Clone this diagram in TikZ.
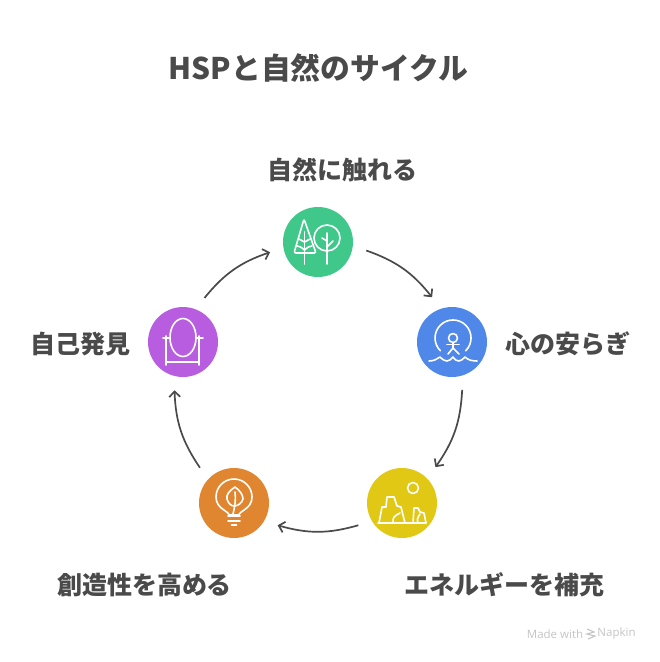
\documentclass[tikz,border=0pt]{standalone}
\usepackage{fontspec}
\setmainfont{Noto Sans CJK JP}
\setsansfont{Open Sans}
\usetikzlibrary{arrows.meta}
\definecolor{inkgray}{HTML}{4A4A4A}
\definecolor{markgray}{HTML}{C4C4C4}
\definecolor{naturegreen}{HTML}{40C88A}
\definecolor{calmblue}{HTML}{4F88E8}
\definecolor{energyyellow}{HTML}{E0C814}
\definecolor{ideaorange}{HTML}{E08530}
\definecolor{selfpurple}{HTML}{B85CE0}
\tikzset{
  stagecircle/.style={circle,fill=#1,minimum size=70pt,inner sep=0pt,outer sep=14pt},
  stagelabel/.style={text=inkgray,font=\fontsize{25}{29}\selectfont\bfseries,inner sep=0pt},
  flowarrow/.style={draw=inkgray,line width=1.7pt,-{Straight Barb[length=5.5pt,width=11pt]},bend left=16},
  iconline/.style={draw=white,line width=1.6pt,line join=round,line cap=round},
}
\begin{document}
\begin{tikzpicture}[x=1pt,y=-1pt]
  \useasboundingbox (0,0) rectangle (660,662);
  \node[text=inkgray,font=\fontsize{29.8}{34}\selectfont\bfseries,inner sep=0pt] (title) at (318.5,68) {HSPと自然のサイクル};
  \node[stagecircle=naturegreen] (nature) at (318,242) {};
  \node[stagecircle=calmblue] (calm) at (452,342) {};
  \node[stagecircle=energyyellow] (energy) at (402,503) {};
  \node[stagecircle=ideaorange] (idea) at (234,503) {};
  \node[stagecircle=selfpurple] (self) at (183,342) {};
  \node[stagelabel] (naturetext) at (342,170) {自然に触れる};
  \node[stagelabel] (calmtext) at (568,344) {心の安らぎ};
  \node[stagelabel] (energytext) at (504,585) {エネルギーを補充};
  \node[stagelabel] (ideatext) at (144.5,585) {創造性を高める};
  \node[stagelabel] (selftext) at (80.5,344) {自己発見};
  \draw[flowarrow] (nature.-10) to (calm.114);
  \draw[flowarrow] (calm.-78) to (energy.47);
  \draw[flowarrow] (energy.-153) to (idea.-27);
  \draw[flowarrow] (idea.134) to (self.-100);
  \draw[flowarrow] (self.64) to (nature.192);
  % trees
  \begin{scope}[shift={(318,242)},iconline]
    \draw[rounded corners=2pt] (-14,-23) -- (-2,11) -- (-24,11) -- cycle;
    \draw (-13.5,-10) -- (-13.5,22);
    \draw (-13.5,0) .. controls (-16,-2) .. (-19,-3);
    \draw (-13.5,0) .. controls (-11,-2) .. (-8,-3);
    \draw (-13.5,8) .. controls (-17,5) .. (-21,4);
    \draw (-13.5,8) .. controls (-10,5) .. (-6,4);
    \draw (9,-4) circle (13);
    \draw (9,-9) -- (9,22);
    \draw (4,-4) -- (9,-1);
    \draw (15,-1) -- (9,5);
  \end{scope}
  % person in water
  \begin{scope}[shift={(452,342)},iconline]
    \draw (-11.7,8.7) arc[start angle=135,end angle=405,radius=18];
    \draw (1,-4) circle (4.5);
    \draw (1,1) -- (1,6);
    \draw (-5,2.5) -- (7,2.5);
    \draw (-4,12) -- (1,6) -- (7,12);
    \draw (-23,19) .. controls (-18,19) and (-15,17) .. (-12,15)
      .. controls (-9,18) and (-7,19) .. (-5,19)
      .. controls (-2,19) and (-1,17) .. (1,15)
      .. controls (3,18) and (5,19) .. (7,19)
      .. controls (9,19) and (11,17) .. (13,15)
      .. controls (16,18) and (20,19) .. (25,19);
  \end{scope}
  % rocks and sun
  \begin{scope}[shift={(402,503)},iconline]
    \draw (11,-15) circle (5.5);
    \draw (-24,20) -- (24,20);
    \draw (-23,20) -- (-20,4) -- (-16,4) -- (-15,-6) -- (-8,-6) -- (-5,3) -- (-1,4) -- (3,20);
    \draw (-9,20) .. controls (-9,14) .. (-2,10);
    \draw (11,20) -- (12,5) -- (16,5) -- (18,9) -- (22,10) -- (24,20);
    \draw (16,20) .. controls (15,16) .. (18,11);
  \end{scope}
  % bulb with leaf
  \begin{scope}[shift={(234,503)},iconline]
    \draw (-5,12) .. controls (-5,8) and (-18,6) .. (-18,-6)
      arc[start angle=180,end angle=360,radius=18]
      .. controls (18,6) and (5,8) .. (5,12) -- cycle;
    \draw (1,-16) .. controls (-5,-12) and (-8,-8) .. (-7,-4)
      .. controls (-6,0) and (-3,3) .. (0,3)
      .. controls (4,3) and (8,0) .. (9,-4)
      .. controls (9,-9) and (5,-13) .. (1,-16);
    \draw (1,-11) .. controls (2,-4) and (1,3) .. (-1,11);
    \draw (-6,13) -- (6,13);
    \draw (-6,18) -- (6,18);
    \draw (-2.5,22) -- (2.5,22);
  \end{scope}
  % mirror
  \begin{scope}[shift={(183,342)},iconline]
    \draw (0,-4.5) ellipse[x radius=13,y radius=19];
    \draw (-17,-6) -- (-17,23);
    \draw (16,-6) -- (16,23);
    \draw (-20,-4) -- (-13,-4);
    \draw (13.5,-4) -- (20,-4);
    \draw (-17,20) -- (16,20);
  \end{scope}
  \node[text=markgray,font=\sffamily\fontsize{11.5}{13}\selectfont,inner sep=0pt] (madewith) at (555,634) {Made with};
  \node[text=markgray,font=\sffamily\fontsize{11.5}{13}\selectfont,inner sep=0pt] (napkin) at (616.5,634) {Napkin};
  \draw[markgray,line width=1.1pt] (587,629) -- (594,632) -- (587,634) -- (595,636) -- (588,639);
\end{tikzpicture}
\end{document}
